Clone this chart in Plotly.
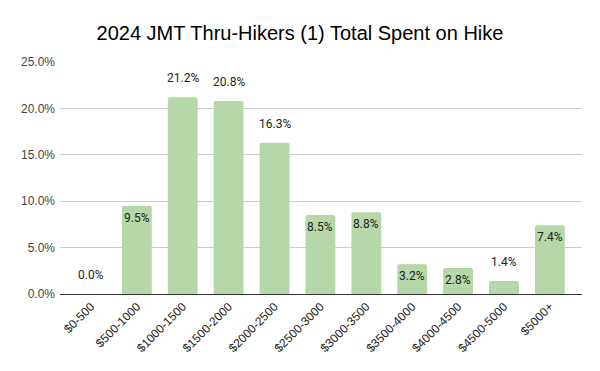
import plotly.graph_objects as go

categories = ["$0-500", "$500-1000", "$1000-1500", "$1500-2000", "$2000-2500",
              "$2500-3000", "$3000-3500", "$3500-4000", "$4000-4500", "$4500-5000", "$5000+"]
values = [0.0, 9.5, 21.2, 20.8, 16.3, 8.5, 8.8, 3.2, 2.8, 1.4, 7.4]
label_inside = [False, True, False, False, False, True, True, True, True, False, True]
y_ticks = [0, 5, 10, 15, 20, 25]

fig = go.Figure()
fig.add_trace(go.Bar(
    x=list(range(len(categories))), y=values,
    marker=dict(color="#b6d7a8", cornerradius=2, line=dict(width=0)),
    width=0.65, hoverinfo="skip",
))

for i, (v, inside) in enumerate(zip(values, label_inside)):
    fig.add_annotation(
        x=i, y=v, text=f"{v:.1f}%", showarrow=False,
        yshift=-12 if inside else 19,
        font=dict(family="Roboto, Arial", size=12, color="#222222"),
    )

fig.update_layout(
    width=600, height=371,
    margin=dict(l=60, r=18, t=62, b=77),
    paper_bgcolor="white", plot_bgcolor="white",
    title=dict(text="2024 JMT Thru-Hikers (1) Total Spent on Hike",
               x=0.5, xanchor="center", y=0.91, yanchor="middle",
               font=dict(family="Arial, Liberation Sans", size=20, color="#000000")),
    showlegend=False,
    bargap=0.35,
)
fig.update_xaxes(
    tickmode="array", tickvals=list(range(len(categories))), ticktext=categories,
    tickangle=-45, range=[-0.675, 10.7],
    tickfont=dict(family="Arial, Liberation Sans", size=12, color="#222222"),
    showgrid=False, showline=True, linecolor="#333333", linewidth=1, ticks="",
)
fig.update_yaxes(
    range=[0, 25], tickvals=y_ticks, ticktext=[f"{t:.1f}%" for t in y_ticks],
    tickfont=dict(family="Arial, Liberation Sans", size=12, color="#444444"),
    showgrid=True, gridcolor="#cccccc", gridwidth=1, zeroline=False,
    ticks="", ticklen=0, ticklabelstandoff=4,
)

fig.write_html("out.html")
